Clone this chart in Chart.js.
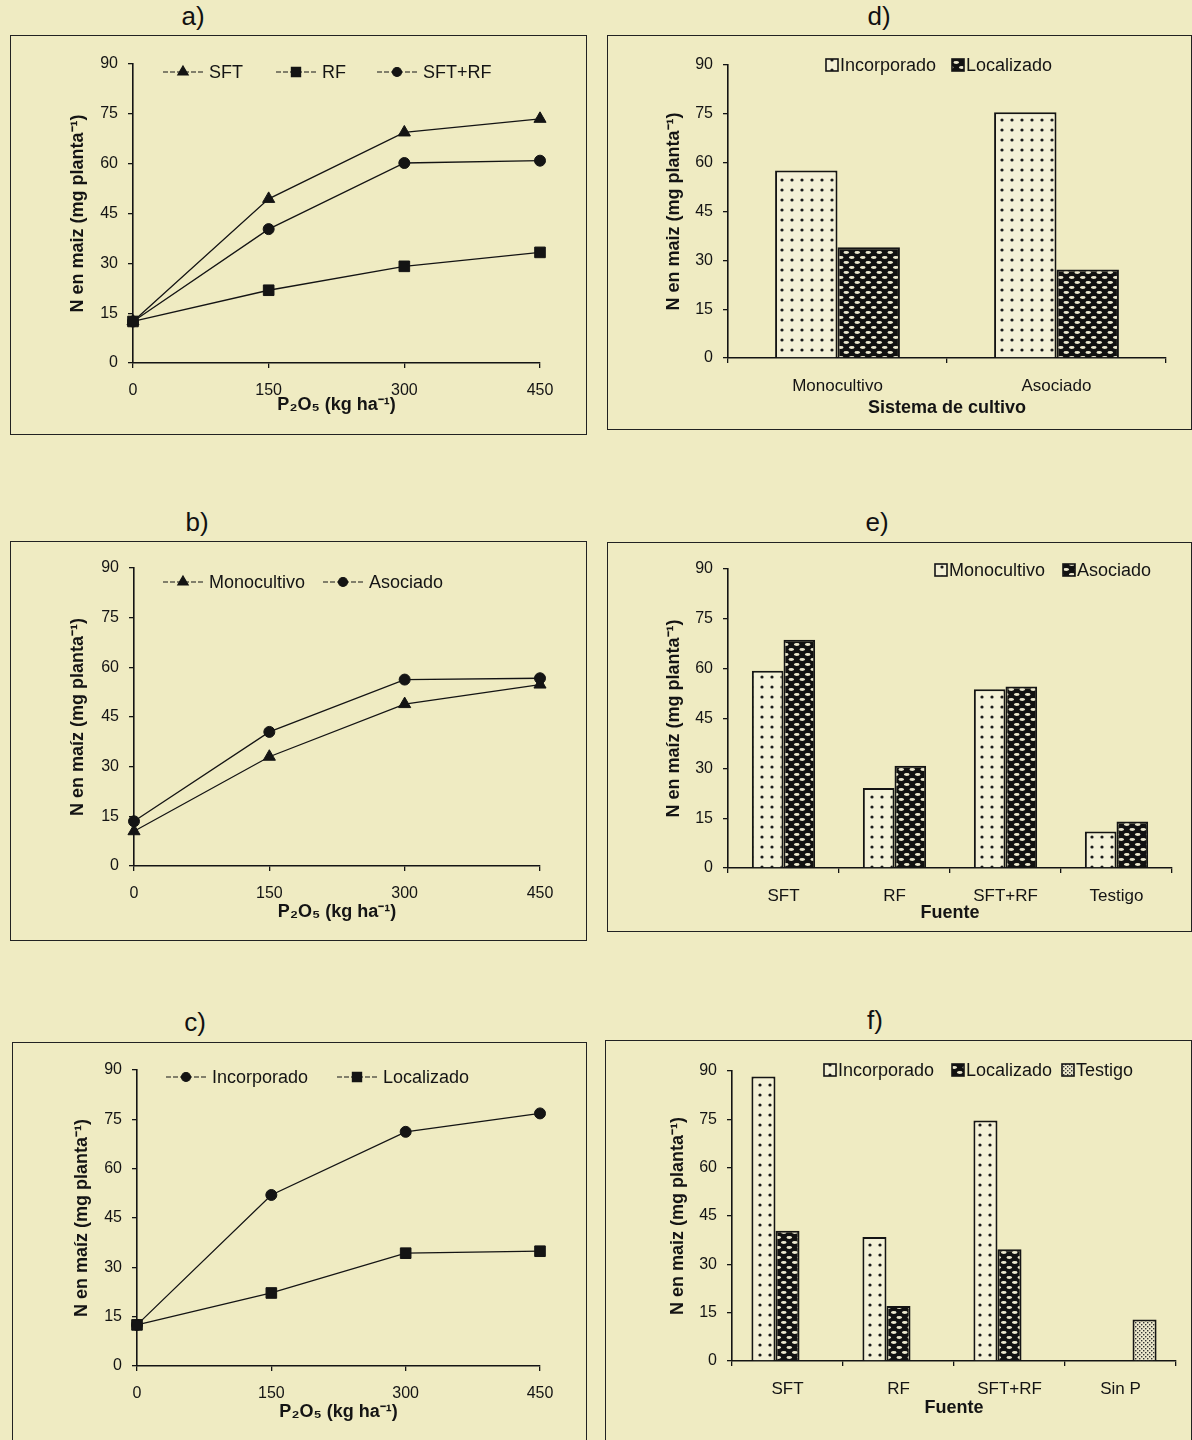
<!DOCTYPE html>
<html>
<head>
<meta charset="utf-8">
<script src="https://cdn.jsdelivr.net/npm/chart.js@4.4.1/dist/chart.umd.min.js"></script>
<style>
  html, body { margin: 0; padding: 0; }
  body {
    width: 1192px; height: 1440px; overflow: hidden; position: relative;
    background: #efebc2;
    font-family: "Liberation Sans", Arial, sans-serif; color: #111;
  }
  canvas { position: absolute; }
  .frame { position: absolute; box-sizing: border-box; border: 1.6px solid #222; pointer-events: none; }
  .ptitle { position: absolute; font-size: 26px; transform: translate(-50%, -50%); }
</style>
</head>
<body>

<script>
// --- DATA ---
const doses = [0, 150, 300, 450];
const xTicks = [0, 150, 300, 450];
const yTicks = [0, 15, 30, 45, 60, 75, 90];

// a) fuente
const aSFT = [12.5, 49.4, 69.4, 73.5];
const aRF = [12.5, 21.9, 29.1, 33.3];
const aSFTRF = [12.5, 40.3, 60.2, 60.9];

// b) sistema de cultivo
const bMono = [10.5, 33.0, 48.9, 54.8];
const bAsoc = [13.5, 40.5, 56.3, 56.7];

// c) forma de aplicación
const cIncorp = [12.5, 52.0, 71.2, 76.8];
const cLocal = [12.5, 22.2, 34.3, 34.9];

// d) sistema de cultivo x aplicación
const sistemas = ['Monocultivo', 'Asociado'];
const dIncorp = [57.6, 75.5];
const dLocal = [34.0, 27.2];

// e) fuente x sistema
const fuentesE = ['SFT', 'RF', 'SFT+RF', 'Testigo'];
const eMono = [59.4, 24.1, 53.8, 11.0];
const eAsoc = [68.7, 30.8, 54.6, 14.0];

// f) fuente x aplicación
const fuentesF = ['SFT', 'RF', 'SFT+RF', 'Sin P'];
const fIncorp = [88.3, 38.5, 74.6, null];
const fLocal = [40.4, 17.1, 34.7, null];
const fTestigo = [null, null, null, 12.9];

// --- LOOK ---
const INK = '#141414';
const FONT = '"Liberation Sans", Arial, sans-serif';
const Y_TITLE_A = 'N en maiz (mg planta⁻¹)';
const Y_TITLE_B = 'N en maíz (mg planta⁻¹)';
const X_TITLE_DOSE = 'P₂O₅ (kg ha⁻¹)';
const TITLE_SIZE = 18;
const LH_TITLE = TITLE_SIZE * 1.2;

Chart.defaults.font.family = FONT;
Chart.defaults.color = INK;

// panel geometry (page pixels): frame box, plot area [left, top, right, bottom], axis title centres
const layout = {
  a: { box: [10, 35, 577, 400],  plot: [133, 64, 540, 363],    yTitleX: 78,  xTitleY: 405,  title: [193, 16],   legendY: 72,   legendXs: [163, 276, 377] },
  b: { box: [10, 541, 577, 400], plot: [134, 568, 540, 866],   yTitleX: 78,  xTitleY: 912,  title: [197, 522],  legendY: 582,  legendXs: [163, 323] },
  c: { box: [12, 1042, 575, 410], plot: [137, 1070, 540, 1366], yTitleX: 82,  xTitleY: 1412, title: [195, 1022], legendY: 1077, legendXs: [166, 337] },
  d: { box: [607, 35, 585, 395], plot: [728, 65, 1166, 358],   yTitleX: 674, xTitleY: 408,  title: [879, 16],   legendY: 65,   legendXs: [826, 952] },
  e: { box: [607, 542, 585, 390], plot: [728, 569, 1172, 868], yTitleX: 674, xTitleY: 913,  title: [877, 522],  legendY: 570,  legendXs: [935, 1063] },
  f: { box: [605, 1040, 587, 410], plot: [732, 1071, 1176, 1361], yTitleX: 678, xTitleY: 1408, title: [875, 1020], legendY: 1070, legendXs: [824, 952, 1062] }
};

// --- fill patterns (scanned hatch look) ---
function makePattern(w, h, draw) {
  const c = document.createElement('canvas');
  c.width = w; c.height = h;
  draw(c.getContext('2d'));
  return c.getContext('2d').createPattern(c, 'repeat');
}

// open bars: dark dots on paper
const PAT_DOTS = makePattern(10, 10, g => {
  g.fillStyle = '#f3f0d6'; g.fillRect(0, 0, 10, 10);
  g.fillStyle = '#1a1a1a';
  g.beginPath(); g.arc(5, 5, 1.6, 0, Math.PI * 2); g.fill();
});

// dark bars: black with staggered light ovals
const PAT_DARK = makePattern(11, 10, g => {
  g.fillStyle = '#111'; g.fillRect(0, 0, 11, 10);
  g.fillStyle = '#ece8cf';
  g.beginPath(); g.ellipse(2.75, 2.5, 2.8, 1.4, 0, 0, Math.PI * 2); g.fill();
  g.beginPath(); g.ellipse(8.25, 7.5, 2.8, 1.4, 0, 0, Math.PI * 2); g.fill();
  // wrap the half ovals at the tile edge
  g.beginPath(); g.ellipse(-2.75, 7.5, 2.8, 1.4, 0, 0, Math.PI * 2); g.fill();
  g.beginPath(); g.ellipse(13.75, 2.5, 2.8, 1.4, 0, 0, Math.PI * 2); g.fill();
});

// testigo: fine stipple
const PAT_FINE = makePattern(4, 4, g => {
  g.fillStyle = '#ece8cc'; g.fillRect(0, 0, 4, 4);
  g.fillStyle = '#333';
  g.fillRect(0, 0, 1.4, 1.4);
  g.fillRect(2, 2, 1.4, 1.4);
});

// --- legend drawn inside the plot like the original ---
const inlineLegend = {
  id: 'inlineLegend',
  afterDraw(chart, args, opts) {
    if (!opts || !opts.xs) return;
    const ctx = chart.ctx;
    ctx.save();
    ctx.font = '18px ' + FONT;
    ctx.textBaseline = 'middle';
    chart.data.datasets.forEach((ds, i) => {
      let x = opts.xs[i];
      const y = opts.y;
      if (opts.kind === 'line') {
        ctx.strokeStyle = INK;
        ctx.lineWidth = 1.2;
        ctx.setLineDash([5, 2]);
        ctx.beginPath(); ctx.moveTo(x, y); ctx.lineTo(x + 40, y); ctx.stroke();
        ctx.setLineDash([]);
        ctx.fillStyle = INK;
        Chart.helpers.drawPoint(ctx, { pointStyle: ds.pointStyle, radius: ds.pointRadius - 1, borderWidth: 1 }, x + 20, y);
        x += 46;
      } else {
        ctx.fillStyle = ds.backgroundColor;
        ctx.fillRect(x, y - 6, 12, 12);
        ctx.strokeStyle = INK;
        ctx.lineWidth = 1.6;
        ctx.strokeRect(x, y - 6, 12, 12);
        x += 14;
      }
      ctx.fillStyle = INK;
      ctx.fillText(ds.label, x, y + 1);
    });
    ctx.restore();
  }
};

function toXY(values) {
  return doses.map((d, i) => ({ x: d, y: values[i] }));
}

function yScale(lay, title) {
  return {
    min: yTicks[0], max: yTicks[yTicks.length - 1],
    afterBuildTicks: s => { s.ticks = yTicks.map(v => ({ value: v })); },
    ticks: { padding: 10, font: { size: 16 }, color: INK },
    grid: { drawOnChartArea: false, drawTicks: true, tickLength: 5, color: INK, lineWidth: 1.3 },
    border: { color: INK, width: 1.6 },
    title: { display: true, text: title, font: { size: TITLE_SIZE, weight: 'bold' }, padding: 0, color: INK },
    afterFit: s => { s.width = lay.yWidth; }
  };
}

function xBase(lay, title) {
  return {
    ticks: { padding: 13, font: { size: 16 }, color: INK, maxRotation: 0, autoSkip: false },
    grid: { drawOnChartArea: false, drawTicks: true, tickLength: 5, color: INK, lineWidth: 1.3 },
    border: { color: INK, width: 1.6 },
    title: { display: true, text: title, font: { size: TITLE_SIZE, weight: 'bold' }, padding: 0, color: INK },
    afterFit: s => { s.height = lay.xHeight; }
  };
}

// build canvas + frame + title for one panel, return context and sizes
function setupPanel(key) {
  const p = layout[key];
  const [bl, bt, bw, bh] = p.box;
  const [pl, pt, pr, pb] = p.plot;

  const frame = document.createElement('div');
  frame.className = 'frame';
  Object.assign(frame.style, { left: bl + 'px', top: bt + 'px', width: bw + 'px', height: bh + 'px' });

  const canvas = document.createElement('canvas');
  canvas.width = bw; canvas.height = bh;
  Object.assign(canvas.style, { left: bl + 'px', top: bt + 'px', width: bw + 'px', height: bh + 'px' });

  const t = document.createElement('div');
  t.className = 'ptitle';
  t.textContent = key + ')';
  t.style.left = p.title[0] + 'px';
  t.style.top = p.title[1] + 'px';

  document.body.appendChild(canvas);
  document.body.appendChild(frame);
  document.body.appendChild(t);

  const padLeft = p.yTitleX - bl - LH_TITLE / 2;
  const padBottom = bt + bh - (p.xTitleY + LH_TITLE / 2);
  return {
    ctx: canvas.getContext('2d'),
    padding: { left: padLeft, top: pt - bt, right: bl + bw - pr, bottom: padBottom },
    yWidth: pl - bl - padLeft,
    xHeight: p.xTitleY + LH_TITLE / 2 - pb,
    legend: { xs: p.legendXs.map(x => x - bl), y: p.legendY - bt }
  };
}

function lineDataset(label, values, pointStyle, radius, order) {
  return {
    label, data: toXY(values), pointStyle, pointRadius: radius, pointBorderWidth: 1,
    borderColor: INK, backgroundColor: INK, pointBackgroundColor: INK, pointBorderColor: INK,
    borderWidth: 1.3, tension: 0, order, clip: false
  };
}

function barDataset(label, values, fill) {
  return { label, data: values, backgroundColor: fill, borderColor: INK, borderWidth: 2 };
}

function lineChart(key, datasets, yTitle) {
  const lay = setupPanel(key);
  const x = xBase(lay, X_TITLE_DOSE);
  x.type = 'linear';
  x.min = xTicks[0];
  x.max = xTicks[xTicks.length - 1];
  x.afterBuildTicks = s => { s.ticks = xTicks.map(v => ({ value: v })); };
  return new Chart(lay.ctx, {
    type: 'line',
    data: { datasets },
    options: {
      responsive: false, animation: false, devicePixelRatio: 1,
      layout: { padding: lay.padding },
      scales: { x, y: yScale(lay, yTitle) },
      plugins: {
        legend: { display: false }, tooltip: { enabled: false },
        inlineLegend: { kind: 'line', xs: lay.legend.xs, y: lay.legend.y }
      }
    },
    plugins: [inlineLegend]
  });
}

function barChart(key, labels, datasets, xTitle, yTitle, catPct) {
  const lay = setupPanel(key);
  const x = xBase(lay, xTitle);
  x.type = 'category';
  x.ticks.font = { size: 17 };
  x.grid.offset = true;
  return new Chart(lay.ctx, {
    type: 'bar',
    data: { labels, datasets },
    options: {
      responsive: false, animation: false, devicePixelRatio: 1,
      layout: { padding: lay.padding },
      datasets: { bar: { categoryPercentage: catPct, barPercentage: 1.0 } },
      scales: { x, y: yScale(lay, yTitle) },
      plugins: {
        legend: { display: false }, tooltip: { enabled: false },
        inlineLegend: { kind: 'bar', xs: lay.legend.xs, y: lay.legend.y }
      }
    },
    plugins: [inlineLegend]
  });
}

document.addEventListener('DOMContentLoaded', () => {
  // --- line panels ---
  lineChart('a', [
    lineDataset('SFT', aSFT, 'triangle', 7, 2),
    lineDataset('RF', aRF, 'rect', 7.5, 0),
    lineDataset('SFT+RF', aSFTRF, 'circle', 5.5, 1)
  ], Y_TITLE_A);

  lineChart('b', [
    lineDataset('Monocultivo', bMono, 'triangle', 7, 1),
    lineDataset('Asociado', bAsoc, 'circle', 5.5, 0)
  ], Y_TITLE_B);

  lineChart('c', [
    lineDataset('Incorporado', cIncorp, 'circle', 5.5, 1),
    lineDataset('Localizado', cLocal, 'rect', 7.5, 0)
  ], Y_TITLE_B);

  // --- bar panels ---
  barChart('d', sistemas, [
    barDataset('Incorporado', dIncorp, PAT_DOTS),
    barDataset('Localizado', dLocal, PAT_DARK)
  ], 'Sistema de cultivo', Y_TITLE_A, 0.57);

  barChart('e', fuentesE, [
    barDataset('Monocultivo', eMono, PAT_DOTS),
    barDataset('Asociado', eAsoc, PAT_DARK)
  ], 'Fuente', Y_TITLE_B, 0.57);

  barChart('f', fuentesF, [
    barDataset('Incorporado', fIncorp, PAT_DOTS),
    barDataset('Localizado', fLocal, PAT_DARK),
    barDataset('Testigo', fTestigo, PAT_FINE)
  ], 'Fuente', Y_TITLE_A, 0.65);
});
</script>
</body>
</html>
